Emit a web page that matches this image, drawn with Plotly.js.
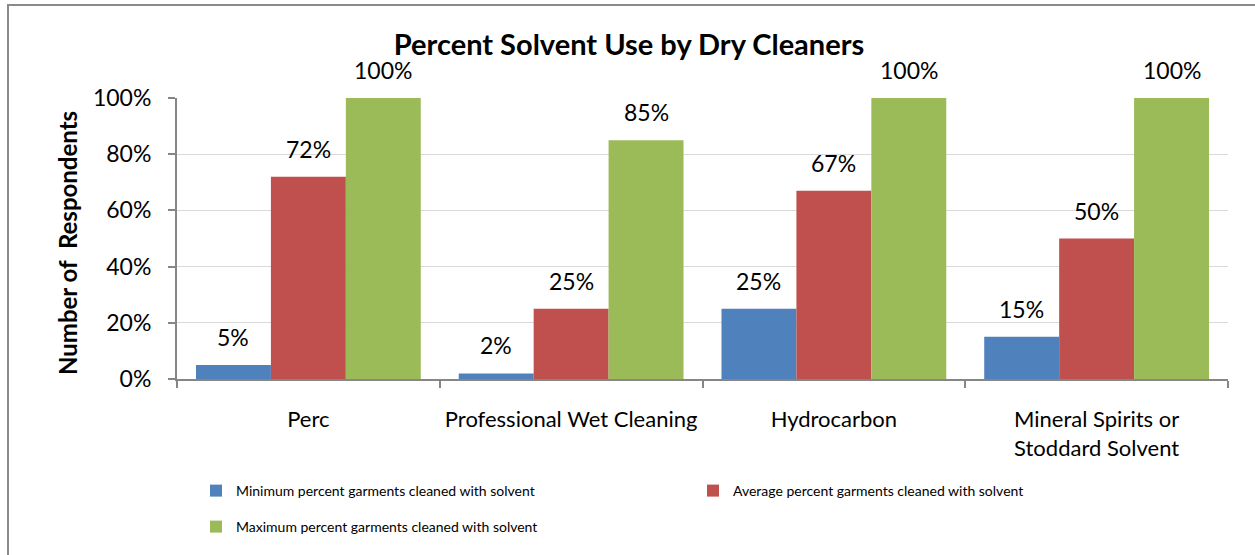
<!DOCTYPE html>
<html>
<head>
<meta charset="utf-8">
<script src="https://cdn.plot.ly/plotly-3.0.1.min.js"></script>
<style>
  html, body { margin: 0; padding: 0; background: #fff; overflow: hidden; }
  #wrap { position: relative; width: 1255px; height: 555px; overflow: hidden; }
  #frame { position: absolute; left: 7px; top: 4px; width: 1400px; height: 700px;
           border-left: 2px solid #8a8a8a; border-top: 2px solid #8a8a8a; pointer-events: none; z-index: 5; }
  #chart { position: absolute; left: 0; top: 0; width: 1255px; height: 555px; }
</style>
</head>
<body>
<div id="wrap">
  <div id="chart"></div>
  <div id="frame"></div>
</div>
<script>
const categories = ["Perc", "Professional Wet Cleaning", "Hydrocarbon", "Mineral Spirits or<br>Stoddard Solvent"];
const seriesNames = [
  "Minimum percent garments cleaned with solvent",
  "Average percent garments cleaned with solvent",
  "Maximum percent garments cleaned with solvent"
];
const minValues = [5, 2, 25, 15];
const avgValues = [72, 25, 67, 50];
const maxValues = [100, 85, 100, 100];
const yTickValues = [0, 20, 40, 60, 80, 100];
const yTickLabels = ["0%", "20%", "40%", "60%", "80%", "100%"];

const colors = ["#4F81BD", "#C0504D", "#9BBB59"];
const allValues = [minValues, avgValues, maxValues];
const FONT = "Lato, 'Liberation Sans', Arial, sans-serif";

const traces = allValues.map((vals, i) => ({
  type: "bar",
  name: seriesNames[i],
  x: categories,
  y: vals,
  marker: { color: colors[i] },
  legend: i === 2 ? "legend2" : "legend",
  hoverinfo: "skip"
}));

const barPx = 75;
const annotations = [];
allValues.forEach((vals, i) => {
  vals.forEach((v, j) => {
    annotations.push({
      x: categories[j], y: v, xref: "x", yref: "y",
      xshift: (i - 1) * barPx, yshift: 12,
      yanchor: "bottom", xanchor: "center",
      text: v + "%", showarrow: false,
      font: { family: FONT, size: 23, color: "#000" }
    });
  });
});
annotations.push({
  xref: "paper", yref: "paper",
  x: -(177 - 67) / 1051, y: (379 - 243) / 281,
  xanchor: "center", yanchor: "middle",
  textangle: -90, showarrow: false,
  text: "<b>Number of&nbsp; Respondents</b>",
  font: { family: FONT, size: 24, color: "#000" }
});

const layout = {
  width: 1255, height: 555, autosize: false,
  margin: { l: 177, r: 27, t: 98, b: 176 },
  paper_bgcolor: "#fff", plot_bgcolor: "#fff",
  title: {
    text: "<b>Percent Solvent Use by Dry Cleaners</b>",
    x: 629 / 1255, xanchor: "center", xref: "container",
    y: 1 - 45 / 555, yanchor: "middle", yref: "container",
    font: { family: FONT, size: 29, color: "#000" }
  },
  barmode: "group",
  bargap: 0.1445,
  bargroupgap: 0,
  xaxis: {
    type: "category",
    showline: true, linecolor: "#868686", linewidth: 2,
    ticks: "outside", ticklen: 7, tickcolor: "#868686", tickwidth: 2,
    tickson: "boundaries",
    showgrid: false,
    ticklabelstandoff: 20,
    tickfont: { family: FONT, size: 22, color: "#000" }
  },
  yaxis: {
    range: [0, 100],
    tickvals: yTickValues, ticktext: yTickLabels,
    showline: true, linecolor: "#868686", linewidth: 2,
    ticks: "outside", ticklen: 7, tickcolor: "#868686", tickwidth: 2,
    showgrid: true, gridcolor: "#D9D9D9", gridwidth: 1,
    zeroline: false,
    ticklabelstandoff: 12,
    tickfont: { family: FONT, size: 23, color: "#000" }
  },
  legend: {
    orientation: "h",
    x: (196 - 177) / 1051, xanchor: "left",
    y: (379 - 491) / 281, yanchor: "middle",
    entrywidth: 452, entrywidthmode: "pixels",
    font: { family: FONT, size: 14, color: "#000" },
    bgcolor: "rgba(0,0,0,0)"
  },
  legend2: {
    orientation: "h",
    x: (196 - 177) / 1051, xanchor: "left",
    y: (379 - 527) / 281, yanchor: "middle",
    font: { family: FONT, size: 14, color: "#000" },
    bgcolor: "rgba(0,0,0,0)"
  },
  annotations: annotations,
  showlegend: true
};

Plotly.newPlot("chart", traces, layout, { displayModeBar: false, staticPlot: true });
</script>
</body>
</html>
